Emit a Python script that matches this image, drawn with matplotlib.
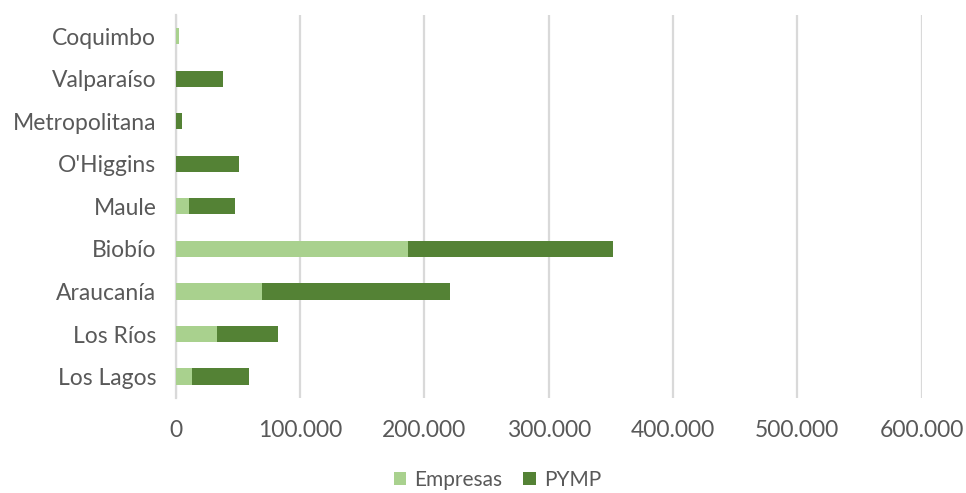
import matplotlib

matplotlib.use("Agg")
import matplotlib.pyplot as plt
from matplotlib.ticker import FuncFormatter

regiones = ["Coquimbo", "Valparaíso", "Metropolitana", "O'Higgins", "Maule",
            "Biobío", "Araucanía", "Los Ríos", "Los Lagos"]
empresas = [2500, 0, 0, 0, 10500, 187000, 69000, 33000, 13000]
pymp = [0, 38000, 5000, 50500, 37000, 165000, 152000, 49000, 45500]

C_EMP = "#A9D18E"
C_PYMP = "#548235"
GRIS = "#595959"

plt.rcParams["font.family"] = ["Lato", "DejaVu Sans"]

fig = plt.figure(figsize=(9.66, 4.93), dpi=100)
ax = fig.add_axes([0.182, 0.193, 0.772, 0.777])

y = list(range(len(regiones)))
ax.barh(y, empresas, height=0.38, color=C_EMP, label="Empresas", zorder=3)
ax.barh(y, pymp, left=empresas, height=0.38, color=C_PYMP, label="PYMP", zorder=3)

ax.set_ylim(len(regiones) - 0.5, -0.5)
ax.set_xlim(0, 600000)
ax.set_xticks(range(0, 600001, 100000))
ax.xaxis.set_major_formatter(FuncFormatter(lambda v, p: f"{int(v):,}".replace(",", ".")))
ax.set_yticks(y)
ax.set_yticklabels(regiones)

ax.grid(axis="x", color="#D9D9D9", linewidth=1.6, zorder=0)
for s in ["top", "right", "bottom"]:
    ax.spines[s].set_visible(False)
ax.spines["left"].set_color("#D9D9D9")
ax.spines["left"].set_linewidth(1.6)
ax.tick_params(axis="both", length=0, colors=GRIS, labelsize=16.5)
ax.tick_params(axis="x", pad=16)
ax.tick_params(axis="y", pad=14)

fig.legend(loc="center", bbox_to_anchor=(0.515, 0.027), ncol=2, frameon=False,
           fontsize=15, handlelength=0.6, handleheight=0.6, columnspacing=1.0,
           handletextpad=0.4, labelcolor=GRIS)

plt.savefig("out.png", dpi=100)
